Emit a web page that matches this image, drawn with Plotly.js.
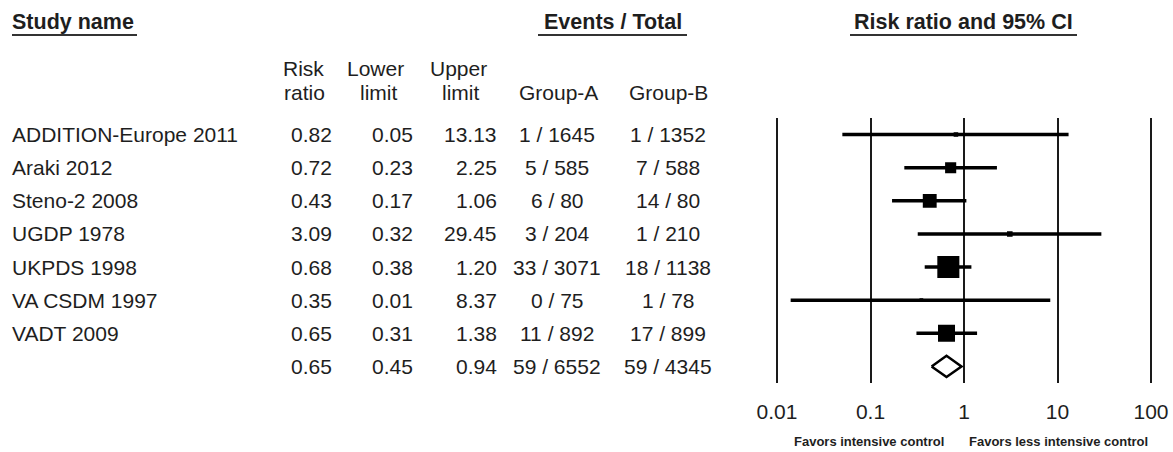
<!DOCTYPE html>
<html>
<head>
<meta charset="utf-8">
<script src="https://cdn.plot.ly/plotly-3.0.1.min.js"></script>
<style>html,body{margin:0;padding:0;background:#fff;}#chart{width:1173px;height:452px;}</style>
</head>
<body>
<div id="chart"></div>
<script>
// ---- data ----
const studies = ['ADDITION-Europe 2011','Araki 2012','Steno-2 2008','UGDP 1978','UKPDS 1998','VA CSDM 1997','VADT 2009'];
const riskRatio = [0.82, 0.72, 0.43, 3.09, 0.68, 0.35, 0.65];
const lowerLimit = [0.05, 0.23, 0.17, 0.32, 0.38, 0.014, 0.31]; // shown rounded to 2 decimals
const upperLimit = [13.13, 2.25, 1.06, 29.45, 1.20, 8.37, 1.38];
const eventsA = ['1 / 1645','5 / 585','6 / 80','3 / 204','33 / 3071','0 / 75','11 / 892'];
const eventsB = ['1 / 1352','7 / 588','14 / 80','1 / 210','18 / 1138','1 / 78','17 / 899'];
const relWeight = [1.8, 10.7, 16.6, 2.7, 42.0, 1.2, 25.0]; // estimated relative weights (%)
const pooledRR = 0.65, pooledLL = 0.45, pooledUL = 0.94;
const pooledA = '59 / 6552', pooledB = '59 / 4345';
const tickVals = [0.01, 0.1, 1, 10, 100];
const tickText = ['0.01', '0.1', '1', '10', '100'];

// ---- helpers ----
const W = 1173, H = 452;
const px = v => v / W;
const py = v => 1 - v / H;
const FONT = 'Liberation Sans, Arial, sans-serif';
const TXT = '#1e1e1e';
const nRows = studies.length + 1;

const traces = [];
// confidence interval lines
const ciX = [], ciY = [];
studies.forEach((s, i) => { ciX.push(lowerLimit[i], upperLimit[i], null); ciY.push(i, i, null); });
traces.push({x: ciX, y: ciY, mode: 'lines', type: 'scatter', line: {color: '#000', width: 3.5}, hoverinfo: 'skip'});
// squares
traces.push({
  x: riskRatio, y: studies.map((s, i) => i), mode: 'markers', type: 'scatter', opacity: 1,
  marker: {symbol: 'square', color: '#000', opacity: 1, size: relWeight.map(w => Math.max(3, 3.4 * Math.sqrt(w))), line: {width: 0}},
  hoverinfo: 'skip'
});
// pooled diamond
const pi = studies.length, dh = 0.32;
traces.push({
  x: [pooledLL, pooledRR, pooledUL, pooledRR, pooledLL],
  y: [pi, pi - dh, pi, pi + dh, pi],
  mode: 'lines', type: 'scatter', fill: 'toself', fillcolor: '#fff',
  line: {color: '#000', width: 2.5}, hoverinfo: 'skip'
});

const ann = [];
function A(text, x, y, opts) {
  ann.push(Object.assign({text: text, x: x, y: y, xref: 'paper', yref: 'paper', showarrow: false,
    xanchor: 'center', yanchor: 'middle', font: {family: FONT, size: 21, color: TXT}}, opts || {}));
}
// headers
A('<b>Study name</b>', px(10), py(22), {xanchor: 'left', font: {family: FONT, size: 21.5, color: TXT}});
A('<b>Events / Total</b>', px(612.5), py(22), {font: {family: FONT, size: 21.5, color: TXT}});
A('<b>Risk ratio and 95% CI</b>', px(963.5), py(22), {font: {family: FONT, size: 21.5, color: TXT}});
A('Risk', px(303), py(68)); A('ratio', px(304), py(93));
A('Lower', px(375), py(68)); A('limit', px(378), py(93));
A('Upper', px(458), py(68)); A('limit', px(460), py(93));
A('Group-A', px(558), py(93)); A('Group-B', px(668), py(93));
// rows
const rowStudy = studies.concat(['']);
const rowRR = riskRatio.concat([pooledRR]);
const rowLL = lowerLimit.concat([pooledLL]);
const rowUL = upperLimit.concat([pooledUL]);
const rowA = eventsA.concat([pooledA]);
const rowB = eventsB.concat([pooledB]);
for (let i = 0; i < nRows; i++) {
  const o = {yref: 'y'};
  if (rowStudy[i]) A(rowStudy[i], px(10), i, Object.assign({xanchor: 'left'}, o));
  A(rowRR[i].toFixed(2), px(334), i, Object.assign({xanchor: 'right'}, o));
  A(rowLL[i].toFixed(2), px(415), i, Object.assign({xanchor: 'right'}, o));
  A(rowUL[i].toFixed(2), px(499), i, Object.assign({xanchor: 'right'}, o));
  A(rowA[i], px(557), i, o);
  A(rowB[i], px(668), i, o);
}
// favors labels
A('<b>Favors intensive control</b>', px(869), py(441), {font: {family: FONT, size: 13, color: TXT}});
A('<b>Favors less intensive control</b>', px(1058), py(441), {font: {family: FONT, size: 13, color: TXT}});

// header underlines
const ul = (x0, x1) => ({type: 'line', xref: 'paper', yref: 'paper', x0: px(x0), x1: px(x1), y0: py(35), y1: py(35), line: {color: '#333', width: 2}});
const shapes = [ul(12, 137), ul(538, 687), ul(850, 1077)];

const layout = {
  width: W, height: H, margin: {l: 0, r: 0, t: 0, b: 0},
  paper_bgcolor: '#fff', plot_bgcolor: '#fff', showlegend: false,
  xaxis: {
    type: 'log', range: [-2.1, 2.1], domain: [px(767.65), px(1160.35)],
    tickvals: tickVals, ticktext: tickText, ticks: '', showline: false, zeroline: false,
    showgrid: true, gridcolor: '#1a1a1a', gridwidth: 2,
    tickfont: {family: FONT, size: 21, color: TXT}, ticklabelstandoff: 14, fixedrange: true
  },
  yaxis: {
    range: [nRows - 0.5, -0.5], domain: [py(383), py(118)],
    showgrid: false, zeroline: false, showticklabels: false, ticks: '', showline: false, fixedrange: true
  },
  annotations: ann, shapes: shapes
};
Plotly.newPlot('chart', traces, layout, {staticPlot: true, displayModeBar: false});
</script>
</body>
</html>
